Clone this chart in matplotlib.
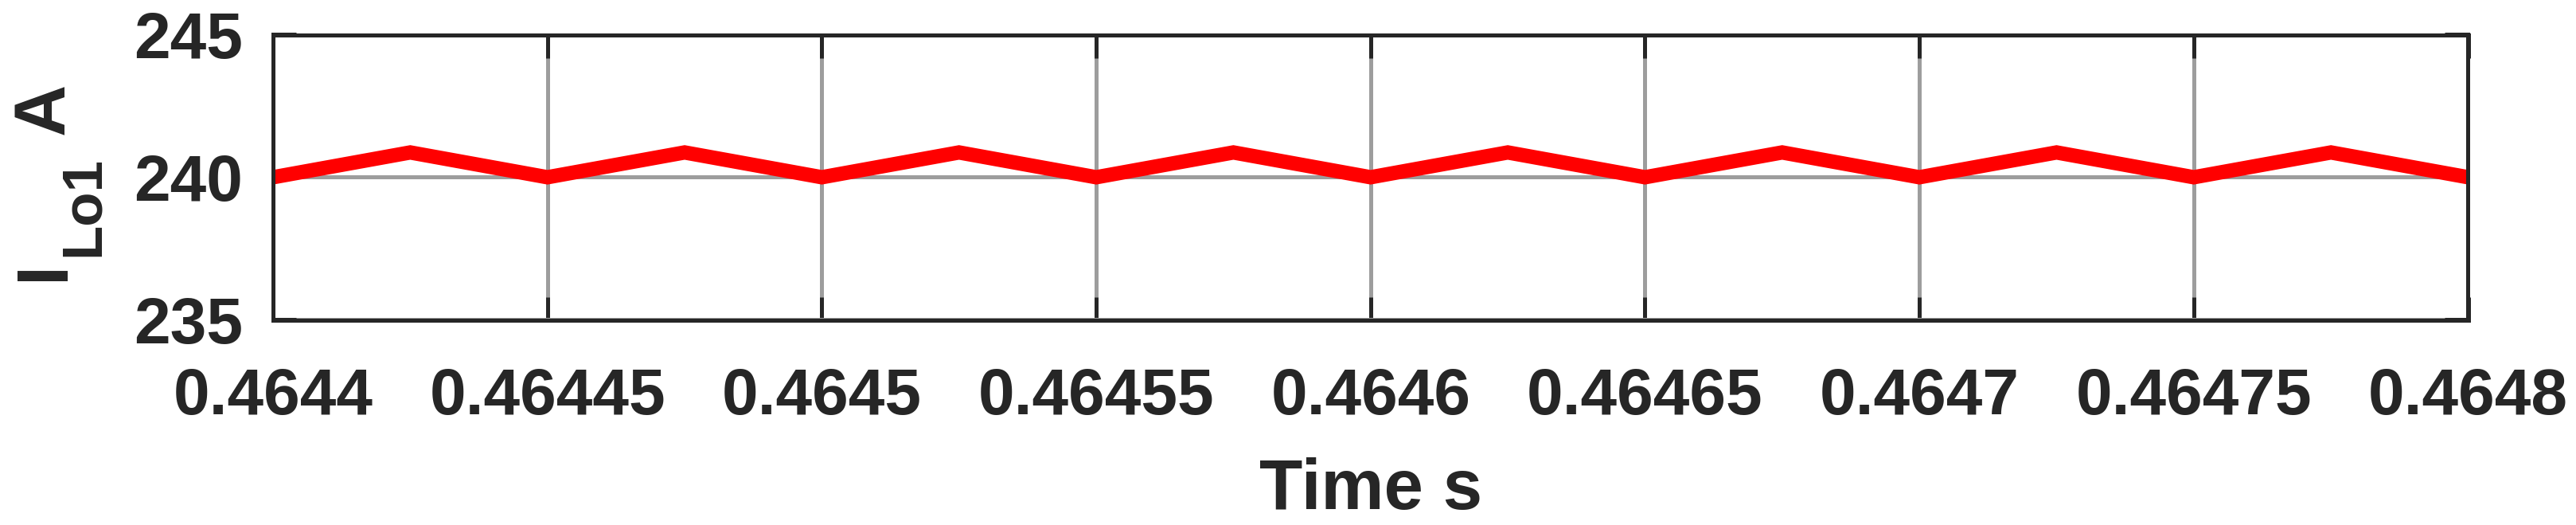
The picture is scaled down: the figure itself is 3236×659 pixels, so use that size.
import matplotlib
matplotlib.use("Agg")
import matplotlib.pyplot as plt

# ---- data ----
time_s = [0.4644, 0.464425, 0.46445, 0.464475, 0.4645, 0.464525, 0.46455, 0.464575,
          0.4646, 0.464625, 0.46465, 0.464675, 0.4647, 0.464725, 0.46475, 0.464775, 0.4648]
i_lo1 = [240.0, 240.87, 240.0, 240.87, 240.0, 240.87, 240.0, 240.87,
         240.0, 240.87, 240.0, 240.87, 240.0, 240.87, 240.0, 240.87, 240.0]
x_ticks = [0.4644, 0.46445, 0.4645, 0.46455, 0.4646, 0.46465, 0.4647, 0.46475, 0.4648]
x_tick_labels = ["0.4644", "0.46445", "0.4645", "0.46455", "0.4646",
                 "0.46465", "0.4647", "0.46475", "0.4648"]
y_ticks = [235, 240, 245]
y_tick_labels = ["235", "240", "245"]

W, H = 3237, 659
DPI = 100
TXT = "#262626"
FONT = "Liberation Sans"

fig = plt.figure(figsize=(W / DPI, H / DPI), dpi=DPI)
fig.patch.set_facecolor("white")

# axes box in pixels: left 343, right 3100.5, top 43.5, bottom 401.5
ax = fig.add_axes([343 / W, (H - 401.5) / H, (3100.5 - 343) / W, (401.5 - 43.5) / H])

ax.plot(time_s, i_lo1, color="#ff0000", linewidth=13, solid_joinstyle="miter")

ax.set_xlim(x_ticks[0], x_ticks[-1])
ax.set_ylim(y_ticks[0], y_ticks[-1])
ax.set_xticks(x_ticks)
ax.set_xticklabels(x_tick_labels)
ax.set_yticks(y_ticks)
ax.set_yticklabels(y_tick_labels)

ax.grid(True, color="#9d9d9d", linewidth=3.6)
for sp in ax.spines.values():
    sp.set_linewidth(3.6)
    sp.set_color(TXT)

ax.tick_params(axis="both", direction="in", length=21, width=3.6, color=TXT,
               labelcolor=TXT, labelsize=59, top=True, right=True)
ax.tick_params(axis="x", pad=43)
ax.tick_params(axis="y", pad=27)
for lab in ax.get_xticklabels() + ax.get_yticklabels():
    lab.set_fontfamily(FONT)
    lab.set_fontweight("bold")

# x label
ax.set_xlabel("Time s", fontsize=64, fontweight="bold", family=FONT, color=TXT)
ax.xaxis.set_label_coords(0.5, (401.5 - 639) / 358)
ax.xaxis.label.set_va("baseline")

# y label built from pieces (MATLAB-style deep subscript)
def ytxt(s, bx, sy, size):
    fig.text(bx / W, 1 - sy / H, s, rotation=90, rotation_mode="anchor",
             ha="left", va="baseline", fontsize=size, fontweight="bold",
             family=FONT, color=TXT)

ytxt("I", 80, 352, 65)
ytxt("Lo1", 124, 322, 51)
ytxt("A", 80, 169, 65)

fig.savefig("out.png", dpi=DPI, facecolor="white")
